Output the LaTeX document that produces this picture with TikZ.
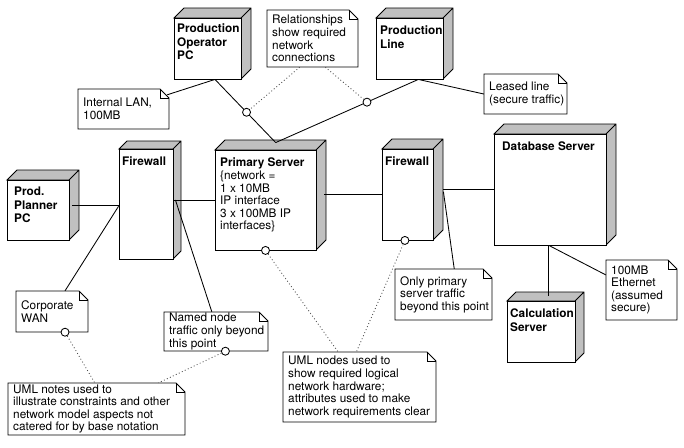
\documentclass[tikz,border=0pt]{standalone}
\usepackage{fontspec}
\setmainfont{TeX Gyre Heros}
\usetikzlibrary{fit,calc}
\definecolor{boxgray}{RGB}{192,192,192}
\tikzset{
  conn/.style={line width=0.85pt},
  front/.style={draw, line width=0.85pt, fill=white, inner sep=0pt},
  ntitle/.style={inner sep=0pt, align=left, font=\fontsize{11.8}{13.2}\selectfont\bfseries},
  ntext/.style={inner sep=0pt, align=left, font=\fontsize{11.8}{12.6}\selectfont},
  notebody/.style={draw, line width=0.85pt, fill=white},
  relline/.style={line width=0.85pt, black!70, dash pattern=on 0.9pt off 2.4pt},
  circ/.style={circle, draw, line width=0.85pt, fill=white, inner sep=0pt, minimum size=8pt},
  hole/.style={inner sep=0pt}
}
% name, x1, y1, x2, y2, depth, text x, text y, text
\newcommand\umlnode[9]{%
  \draw[conn, fill=boxgray] (#2,#3) -- ({#2+#6},{#3-#6}) -- ({#4+#6},{#3-#6}) -- ({#4+#6},{#5-#6}) -- (#4,#5) -- (#4,#3) -- cycle
    (#4,#3) -- ({#4+#6},{#3-#6});
  \path (#2,#3) coordinate (#1-nw) (#4,#5) coordinate (#1-se);
  \node[front, fit=(#1-nw)(#1-se)] (#1) {};
  \node[ntitle, anchor=north west] (#1-t) at (#7,#8) {#9};
}
% name, x1, y1, x2, y2, text
\newcommand\umlnote[6]{%
  \path (#2,#3) coordinate (#1-nw) (#4,#5) coordinate (#1-se);
  \node[hole, fit=(#1-nw)(#1-se)] (#1) {};
  \draw[notebody] (#2,#3) -- ({#4-9},#3) -- (#4,{#3+9}) -- (#4,#5) -- (#2,#5) -- cycle;
  \draw[conn] ({#4-9},#3) -- ({#4-9},{#3+9}) -- (#4,{#3+9});
  \node[ntext, anchor=west] (#1-t) at ({#2+5},{(#3+#5)/2}) {#6};
}
\begin{document}
\begin{tikzpicture}[x=1pt,y=-1pt]
\useasboundingbox (0,0) rectangle (684,447);
\fill[white] (0,0) rectangle (684,447);

% nodes
\umlnode{opc}{174}{18}{241}{79}{10}{177}{24}{Production\\Operator\\PC}
\umlnode{pline}{376}{18}{443}{79}{10}{380}{26}{Production\\Line}
\umlnode{planner}{7}{180}{69}{240}{10}{14}{187}{Prod.\\Planner\\PC}
\umlnode{fwl}{119}{149}{173}{259}{8}{122}{157}{Firewall}
\umlnode{ps}{215}{150}{316}{250}{10}{220}{158}{}
\node[ntext, anchor=north west] (ps-t2) at (220,158) {\textbf{Primary Server}\\\{network =\\1 x 10MB\\IP interface\\3 x 100MB IP\\interfaces\}};
\umlnode{fwr}{382}{149}{433}{240}{10}{385}{157}{Firewall}
\umlnode{db}{494}{134}{606}{245}{10}{502}{142}{Database Server}
\umlnode{calc}{507}{301}{575}{362}{9}{510}{309}{Calculation\\Server}

% notes
\umlnote{relnote}{267}{10}{358}{67}{Relationships\\show required\\network\\connections}
\umlnote{leased}{484}{74}{567}{114}{Leased line\\(secure traffic)}
\umlnote{lan}{78}{89}{169}{129}{Internal LAN,\\100MB}
\umlnote{wan}{16}{291}{88}{332}{Corporate\\WAN}
\umlnote{named}{164}{312}{268}{351}{Named node\\traffic only beyond\\this point}
\umlnote{only}{395}{269}{492}{320}{Only primary\\server traffic\\beyond this point}
\umlnote{eth}{606}{260}{677}{320}{100MB\\Ethernet\\(assumed\\secure)}
\umlnote{umlnodes}{283}{352}{436}{422}{UML nodes used to\\show required logical\\network hardware;\\attributes used to make\\network requirements clear}
\umlnote{umlnotes}{8}{383}{185}{435}{UML notes used to\\illustrate constraints and other\\network model aspects not\\catered for by base notation}

% connectors
\coordinate (opcB) at ($(opc.south west)!0.61!(opc.south east)$);
\coordinate (plB) at ($(pline.south west)!0.63!(pline.south east)$);
\coordinate (psT) at ($(ps.north west)!0.6!(ps.north east)+(0,-7)$);
\draw[conn] (opcB) -- ($(lan.north east)+(-2,6)$);
\draw[conn] (opcB) -- node[circ, pos=0.52] (c1) {} (psT);
\draw[conn] (plB) -- node[circ, pos=0.36] (c2) {} (psT);
\draw[conn] (plB) -- (leased.west);
\draw[relline] ($(relnote.south west)!0.36!(relnote.south east)$) -- (c1);
\draw[relline] ($(relnote.south west)!0.64!(relnote.south east)$) -- (c2);

\coordinate (plE) at ($(planner.north east)!0.42!(planner.south east)+(3,0)$);
\draw[conn] (plE) -- (plE -| fwl.west);
\draw[conn] ($(fwl.north west)!0.52!(fwl.south west)$) -- ($(wan.north west)!0.68!(wan.north east)$);
\draw[conn] (ps.west) -- (ps.west -| fwl.east);
\draw[conn] ($(ps.west -| fwl.east)+(2,0)$) -- ($(named.north west)!0.46!(named.north east)$);
\draw[conn] (fwr.west) -- ($(fwr.west -| ps.east)+(8,0)$);
\draw[conn] ($(db.west -| fwr.east)+(10,0)$) -- (db.west);
\draw[conn] ($(fwr.north east)!0.47!(fwr.south east)+(10,0)$) -- ($(only.north west)!0.61!(only.north east)$);

\node[circ] (c3) at ($(fwr.south west)!0.45!(fwr.south east)$) {};
\draw[relline] (c3) -- ($(umlnodes.north west)!0.48!(umlnodes.north east)$);
\node[circ] (c4) at (ps.south) {};
\draw[relline] (c4) -- ($(umlnodes.north west)!0.36!(umlnodes.north east)$);

\coordinate (dbB) at ($(db.south west)!0.49!(db.south east)$);
\draw[conn] (dbB) -- ($(dbB |- calc.north)+(0,-5)$);
\draw[conn] (dbB) -- ($(eth.north west)!0.25!(eth.south west)$);

\node[circ] (c5) at ($(wan.south west)!0.68!(wan.south east)$) {};
\draw[relline] (c5) -- ($(umlnotes.north west)!0.49!(umlnotes.north east)$);
\node[circ] (c6) at ($(named.south west)!0.59!(named.south east)$) {};
\draw[relline] (c6) -- ($(umlnotes.north west)!0.85!(umlnotes.north east)$);
\end{tikzpicture}
\end{document}
